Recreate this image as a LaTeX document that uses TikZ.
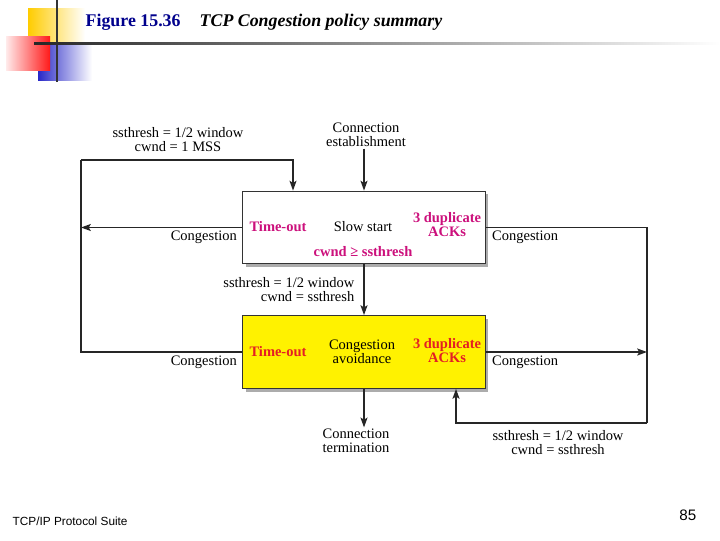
\documentclass[tikz,border=0pt]{standalone}
\usepackage{fontspec}
\setmainfont{Liberation Serif}
\newfontfamily\footfont{Liberation Sans}
\usetikzlibrary{arrows.meta, positioning, calc, shadows}

\definecolor{ttlblue}{RGB}{0,0,140}
\definecolor{tomag}{RGB}{204,16,124}
\definecolor{tored}{RGB}{228,30,36}
\definecolor{cayellow}{RGB}{255,242,0}
\definecolor{decoyellow}{RGB}{255,204,0}
\definecolor{decoblue}{RGB}{40,40,200}

\begin{document}
\begin{tikzpicture}[
  x=0.025cm, y=-0.025cm,
  >={Stealth[length=7pt, width=5pt, inset=1.5pt]},
  every node/.style={font=\fontsize{10.3}{10}\selectfont, inner sep=1pt},
  % --- box styles ---
  statebox/.style={
    draw=black!80, line width=0.7pt,
    minimum width=\bw, minimum height=\bh,
    drop shadow={shadow xshift=2.2pt, shadow yshift=-2.2pt,
      fill=gray!65, opacity=1},
  },
  evt/.style={font=\fontsize{10.3}{10}\selectfont\bfseries, align=center},
  lbl/.style={align=center},
  arr/.style={->, line width=1pt, draw=black!85},
  ln/.style={line width=1pt, draw=black!85},
]

% === Layout constants ===
\def\bw{6.05cm}   % box width
\def\bh{1.82cm}   % box height

\useasboundingbox (0,0) rectangle (720,540);

% ---------- Slide decoration ----------
\shade[left color=decoyellow, right color=white] (28,8) rectangle (85,41);
\shade[left color=decoblue, right color=white] (38,45) rectangle (92,80);
\shade[left color=red!8, right color=red!90] (6,36) rectangle (50,70);
\draw[line width=2pt, black!80] (57,0) -- (57,82);
\shade[left color=black!85, right color=white] (34,42) rectangle (720,44.5);

% ---------- Title ----------
\node[anchor=west, text=ttlblue, font=\fontsize{12.7}{14}\selectfont\bfseries]
  (fig) at (84,22) {Figure 15.36};
\node[anchor=west, font=\fontsize{12.7}{14}\selectfont\bfseries\itshape]
  (ttl) at (198,22) {TCP Congestion policy summary};

% ---------- Row 1: Slow start ----------
\node[statebox, fill=white] (ss) at (364,227.5) {};
\node[evt, text=tomag] (ssto) at (278,227) {Time-out};
\node (ssname) at (363,227) {Slow start};
\node[evt, text=tomag] (ssdup) at (447,225) {3 duplicate\\ACKs};
\node[evt, text=tomag] (sscond) at (363,252) {cwnd ≥ ssthresh};

% ---------- Row 2: Congestion avoidance ----------
\node[statebox, fill=cayellow] (ca) at (364,352) {};
\node[evt, text=tored] (cato) at (278,352) {Time-out};
\node[lbl] (caname) at (362,352) {Congestion\\avoidance};
\node[evt, text=tored] (cadup) at (447,351) {3 duplicate\\ACKs};

% ---------- Entry / exit ----------
\node[lbl] (est) at (366,135) {Connection\\establishment};
\draw[arr] (est.south -| ss.north) -- (ss.north);

\node[lbl] (term) at (356,441) {Connection\\termination};
\draw[arr] (ca.south) -- (ca.south |- term.north);

% ss -> ca (ssthresh reached)
\draw[arr] (ss.south) -- (ca.north);
\node[align=right, anchor=east] (sslbl) at (356,290)
  {ssthresh = 1/2 window\\cwnd = ssthresh};

% ---------- Left loop: time-out ----------
\coordinate (tl) at (81,160);
\draw[ln] (ca.west) -| (tl);
\draw[arr] (tl) -| ($(ss.north)+(-71,0)$);
\draw[arr] (ss.west) -- (ss.west -| tl);
\node[lbl] (tolbl) at (178,140) {ssthresh = 1/2 window\\cwnd = 1 MSS};
\node[anchor=north east] (cgl1) at ($(ss.west)+(-4,2)$) {Congestion};
\node[anchor=north east] (cgl2) at ($(ca.west)+(-4,2)$) {Congestion};

% ---------- Right loop: 3 duplicate ACKs ----------
\coordinate (br) at (647,423);
\draw[ln] (ss.east) -| (br);
\draw[arr] (br) -| ($(ca.south)+(92,0)$);
\draw[arr] (ca.east) -- (ca.east -| br);
\node[lbl] (duplbl) at (558,443) {ssthresh = 1/2 window\\cwnd = ssthresh};
\node[anchor=north west] (cgr1) at ($(ss.east)+(5,2)$) {Congestion};
\node[anchor=north west] (cgr2) at ($(ca.east)+(5,2)$) {Congestion};

% ---------- Footer ----------
\node[anchor=west, font=\footfont\fontsize{8.4}{10}\selectfont]
  (foot) at (11,521) {TCP/IP Protocol Suite};
\node[anchor=east, font=\footfont\fontsize{10.8}{12}\selectfont]
  (pg) at (698,515) {85};

\end{tikzpicture}
\end{document}
